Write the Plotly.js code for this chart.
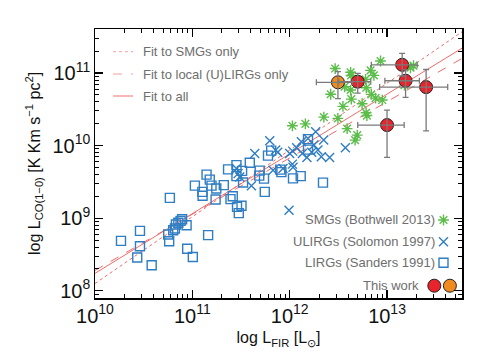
<!DOCTYPE html>
<html>
<head>
<meta charset="utf-8">
<script src="https://cdn.plot.ly/plotly-3.0.1.min.js"></script>
<style>
  body { margin: 0; background: #fff; }
  #plot { width: 491px; height: 359px; }
</style>
</head>
<body>
<div id="plot"></div>
<script>
// log10 values
var smgLogLfir = [12.933, 12.467, 12.626, 12.631, 12.831, 12.865, 12.779, 12.564, 12.626, 12.787,
  12.421, 12.633, 12.838, 13.241, 12.547, 12.744, 12.882, 12.951, 12.785, 12.793,
  12.351, 12.495, 12.590, 12.694, 12.672, 12.028, 12.161, 13.179, 13.272];
var smgLogLco = [11.166, 11.062, 11.010, 10.966, 11.037, 10.968, 10.913, 10.811, 10.766, 10.797,
  10.708, 10.641, 10.706, 11.073, 10.541, 10.577, 10.655, 10.628, 10.452, 10.414,
  10.393, 10.375, 10.234, 10.145, 10.076, 10.273, 10.299, 10.834, 11.103];

var ulirgLogLfir = [11.453, 11.470, 11.487, 11.607, 11.641, 11.795, 11.856, 11.877, 11.829, 11.931,
  11.993, 12.000, 12.031, 12.028, 12.034, 12.120, 12.130, 12.177, 12.188, 12.249,
  12.267, 12.290, 12.325, 12.349, 12.410, 12.572, 12.072, 12.226];
var ulirgLogLco = [9.686, 9.614, 9.566, 9.448, 9.892, 10.066, 9.938, 9.910, 9.662, 9.686,
  9.110, 9.892, 9.924, 9.745, 9.703, 10.052, 9.892, 9.837, 10.099, 10.007,
  10.190, 9.938, 9.846, 10.076, 9.837, 9.972, 9.972, 9.910];

var lirgLogLfir = [10.267, 10.462, 10.462, 10.434, 10.582, 10.769, 10.752, 10.762, 10.821, 10.831,
  10.879, 10.895, 10.941, 10.803, 10.947, 11.005, 11.162, 11.026, 11.103, 11.105,
  11.146, 11.179, 11.197, 11.246, 11.239, 11.323, 11.367, 11.392, 11.415, 11.453,
  11.453, 11.511, 11.459, 11.477, 11.505, 11.521, 11.590, 11.692, 11.687, 11.736,
  11.744, 11.777, 11.810, 11.903, 11.915, 12.034, 12.113, 12.188, 12.188, 12.342, 10.856];
var lirgLogLco = [8.687, 8.825, 8.614, 8.458, 8.352, 9.280, 8.775, 8.683, 8.858, 8.913,
  8.963, 8.986, 8.903, 8.834, 8.579, 8.466, 8.766, 9.448, 9.363, 9.310,
  9.600, 9.531, 9.448, 9.410, 9.258, 9.455, 9.673, 9.262, 9.303, 9.579,
  9.731, 9.652, 9.156, 9.069, 9.172, 9.492, 9.763, 9.655, 9.586, 9.545,
  9.363, 9.862, 9.931, 9.669, 9.634, 9.548, 9.579, 10.090, 9.945, 9.490, 8.938];

// this work (linear units)
var redLfir = [5.0e12, 1.43e13, 1.55e13, 2.52e13, 1.0e13];
var redLco = [7.6e10, 1.30e11, 7.83e10, 6.4e10, 1.92e10];
var redErrLfirPlus = [1.8e12, 6.1e12, 6.0e12, 1.68e13, 5.0e12];
var redErrLfirMinus = [1.8e12, 7.4e12, 6.0e12, 1.68e13, 5.0e12];
var redErrLcoPlus = [2.3e10, 5.7e10, 3.2e10, 4.8e10, 1.17e10];
var redErrLcoMinus = [2.3e10, 3.9e10, 3.2e10, 4.8e10, 1.23e10];
var orangeLfir = [3.13e12];
var orangeLco = [7.45e10];
var orangeErrLfir = [1.25e12];
var orangeErrLco = [3.0e10];

// fit lines, log endpoints
var fitLogLfir = [10.0, 13.77];
var fitSmgLogLco = [8.10, 11.568];
var fitLocalLogLco = [8.28, 11.202];
var fitAllLogLco = [8.24, 11.343];

var lin = function (a) { return a.map(function (v) { return Math.pow(10, v); }); };

var blue = '#2f7dc3';
var green = '#5cbd4a';
var fitColor = '#f26a6a';
var errColor = '#7a7a7a';
var textGray = '#6e6e6e';

var traces = [
  { x: lin(fitLogLfir), y: lin(fitSmgLogLco), mode: 'lines', line: { color: fitColor, width: 1, dash: 'dot' }, hoverinfo: 'skip' },
  { x: lin(fitLogLfir), y: lin(fitLocalLogLco), mode: 'lines', line: { color: fitColor, width: 1, dash: 'dash' }, hoverinfo: 'skip' },
  { x: lin(fitLogLfir), y: lin(fitAllLogLco), mode: 'lines', line: { color: fitColor, width: 1 }, hoverinfo: 'skip' },
  { x: lin(lirgLogLfir), y: lin(lirgLogLco), mode: 'markers',
    marker: { symbol: 'square-open', size: 9, color: blue, line: { width: 1.4 } } },
  { x: lin(ulirgLogLfir), y: lin(ulirgLogLco), mode: 'markers',
    marker: { symbol: 'x-thin-open', size: 9, color: blue, line: { width: 1.4, color: blue } } },
  { x: lin(smgLogLfir), y: lin(smgLogLco), mode: 'markers',
    marker: { symbol: 'asterisk-open', size: 9, color: green, line: { width: 1.4, color: green } } },
  { x: orangeLfir, y: orangeLco, mode: 'markers',
    marker: { size: 13, color: '#f08c1e', line: { color: '#222', width: 1 } } },
  { x: redLfir, y: redLco, mode: 'markers',
    marker: { size: 13, color: '#e8232b', line: { color: '#222', width: 1 } } },
  // error bars on top of the circles
  { x: orangeLfir, y: orangeLco, mode: 'markers', marker: { size: 1, opacity: 0 },
    error_x: { type: 'data', array: orangeErrLfir, color: errColor, thickness: 1.3, width: 3 },
    error_y: { type: 'data', array: orangeErrLco, color: errColor, thickness: 1.3, width: 3 } },
  { x: redLfir, y: redLco, mode: 'markers', marker: { size: 1, opacity: 0 },
    error_x: { type: 'data', array: redErrLfirPlus, arrayminus: redErrLfirMinus, color: errColor, thickness: 1.3, width: 3 },
    error_y: { type: 'data', array: redErrLcoPlus, arrayminus: redErrLcoMinus, color: errColor, thickness: 1.3, width: 3 } }
];

// legend keys on an overlay axis (0..1)
var keyX = [0.9496, 0.9496, 0.9496];
var keyY = [0.290, 0.2093, 0.1312];
traces.push(
  { x: [keyX[0]], y: [keyY[0]], xaxis: 'x2', yaxis: 'y2', mode: 'markers',
    marker: { symbol: 'asterisk-open', size: 9, color: green, line: { width: 1.4, color: green } } },
  { x: [keyX[1]], y: [keyY[1]], xaxis: 'x2', yaxis: 'y2', mode: 'markers',
    marker: { symbol: 'x-thin-open', size: 9, color: blue, line: { width: 1.4, color: blue } } },
  { x: [keyX[2]], y: [keyY[2]], xaxis: 'x2', yaxis: 'y2', mode: 'markers',
    marker: { symbol: 'square-open', size: 9, color: blue, line: { width: 1.4 } } },
  { x: [0.9245], y: [0.0457], xaxis: 'x2', yaxis: 'y2', mode: 'markers',
    marker: { size: 13, color: '#e8232b', line: { color: '#222', width: 1 } } },
  { x: [0.967], y: [0.0457], xaxis: 'x2', yaxis: 'y2', mode: 'markers',
    marker: { size: 13, color: '#f08c1e', line: { color: '#222', width: 1 } } }
);

var axisCommon = {
  type: 'log',
  dtick: 1,
  exponentformat: 'power',
  showexponent: 'all',
  showgrid: false,
  zeroline: false,
  showline: true,
  linecolor: '#000',
  linewidth: 1.5,
  mirror: 'allticks',
  ticks: 'inside',
  ticklen: 8,
  tickwidth: 1.2,
  tickcolor: '#000',
  tickfont: { size: 16, color: '#111' },
  minor: { ticks: 'inside', ticklen: 4, tickwidth: 1, tickcolor: '#000', showgrid: false }
};

var layout = {
  width: 491,
  height: 359,
  margin: { l: 95, r: 29, t: 29, b: 61 },
  paper_bgcolor: '#fff',
  plot_bgcolor: '#fff',
  showlegend: false,
  font: { family: 'Liberation Sans, Arial, sans-serif', color: '#111' },
  xaxis: Object.assign({}, axisCommon, {
    range: [10, 13.77],
    title: { text: 'log L<sub>FIR</sub> [L<sub>⊙</sub>]', font: { size: 16 }, standoff: 6 }
  }),
  yaxis: Object.assign({}, axisCommon, {
    range: [7.9, 11.607],
    title: { text: 'log L<sub>CO(1−0)</sub> [K Km s<sup>−1</sup> pc<sup>2</sup>]', font: { size: 16 }, standoff: 8 }
  }),
  xaxis2: { overlaying: 'x', range: [0, 1], visible: false, fixedrange: true },
  yaxis2: { overlaying: 'y', range: [0, 1], visible: false, fixedrange: true },
  shapes: [
    { type: 'line', xref: 'paper', yref: 'paper', x0: 0.049, x1: 0.1035, y0: 0.9156, y1: 0.9156, line: { color: '#f7a0a0', width: 1, dash: 'dot' } },
    { type: 'line', xref: 'paper', yref: 'paper', x0: 0.049, x1: 0.1035, y0: 0.8327, y1: 0.8327, line: { color: '#f7a0a0', width: 1.2, dash: 'dash' } },
    { type: 'line', xref: 'paper', yref: 'paper', x0: 0.049, x1: 0.1035, y0: 0.7509, y1: 0.7509, line: { color: '#f7a0a0', width: 1.5 } }
  ],
  annotations: [
    { text: 'Fit to SMGs only', x: 0.125, y: 0.9156 },
    { text: 'Fit to local (U)LIRGs only', x: 0.125, y: 0.8327 },
    { text: 'Fit to all', x: 0.125, y: 0.7509 }
  ].map(function (a) {
    return Object.assign(a, { xref: 'paper', yref: 'paper', xanchor: 'left', yanchor: 'middle', showarrow: false, font: { size: 13, color: textGray } });
  }).concat([
    { text: 'SMGs (Bothwell 2013)', x: 0.932, y: 0.290 },
    { text: 'ULIRGs (Solomon 1997)', x: 0.932, y: 0.2093 },
    { text: 'LIRGs (Sanders 1991)', x: 0.932, y: 0.1312 },
    { text: 'This work', x: 0.888, y: 0.0457 }
  ].map(function (a) {
    return Object.assign(a, { xref: 'paper', yref: 'paper', xanchor: 'right', yanchor: 'middle', showarrow: false, font: { size: 13, color: textGray } });
  }))
};

Plotly.newPlot('plot', traces, layout, { displayModeBar: false, staticPlot: true });
</script>
</body>
</html>
